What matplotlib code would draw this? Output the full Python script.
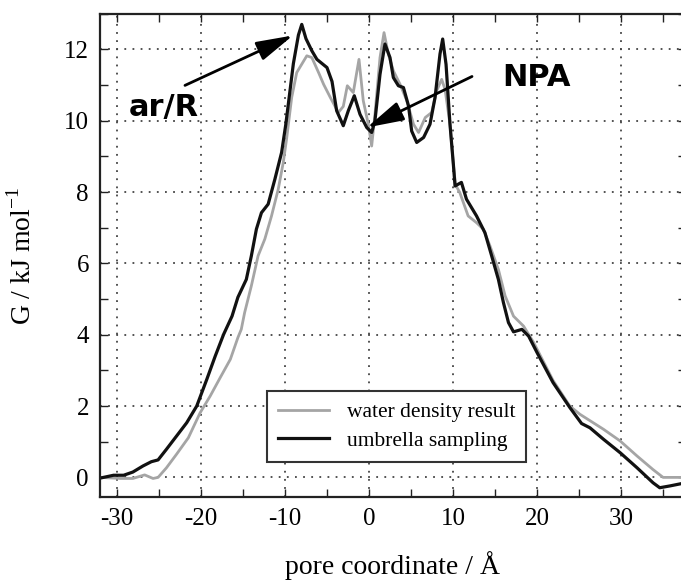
import numpy as np
import matplotlib
matplotlib.use('Agg')
import matplotlib.pyplot as plt
from matplotlib.ticker import MultipleLocator

plt.rcParams['font.family'] = ['Liberation Serif', 'DejaVu Serif']
plt.rcParams['mathtext.fontset'] = 'custom'
plt.rcParams['mathtext.rm'] = 'Liberation Serif'
plt.rcParams['axes.unicode_minus'] = False

# umbrella sampling (black)
us_x = [-32, -30.4, -29.2, -28.1, -26.9, -25.9, -25.1, -24.1, -22.9, -21.7, -20.5, -19.3, -18.3,
        -17.3, -16.3, -15.6, -14.6, -14.0, -13.4, -12.8, -12.0, -11.2, -10.4, -9.9, -9.0, -8.4,
        -8.0, -7.5, -6.8, -6.2, -5.0, -4.4, -3.85, -3.06, -2.46, -1.75, -1.07, -0.27, 0.32, 0.71,
        1.31, 1.9, 2.5, 2.9, 3.5, 4.1, 4.7, 5.08, 5.68, 6.5, 7.26, 7.86, 8.45, 8.77, 9.17, 9.64,
        10.04, 10.24, 11.0, 11.6, 12.8, 13.8, 14.6, 15.4, 16.0, 16.6, 17.2, 18.2, 19.0, 20.0,
        21.9, 23.9, 25.3, 26.3, 27.9, 29.9, 31.9, 33.8, 34.6, 35.8, 37.7]
us_g = [-0.02, 0.06, 0.06, 0.15, 0.32, 0.44, 0.49, 0.79, 1.16, 1.53, 2.0, 2.75, 3.4,
        4.01, 4.52, 5.05, 5.55, 6.21, 6.96, 7.42, 7.66, 8.36, 9.11, 9.9, 11.6, 12.4,
        12.7, 12.3, 11.96, 11.72, 11.49, 11.1, 10.28, 9.86, 10.28, 10.7, 10.18, 9.81, 9.67, 10.0,
        11.3, 12.15, 11.77, 11.21, 10.98, 10.93, 10.42, 9.71, 9.39, 9.53, 9.9, 10.65, 11.87, 12.29,
        11.58, 9.9, 8.78, 8.17, 8.27, 7.8, 7.33, 6.86, 6.21, 5.55, 4.9, 4.34, 4.08, 4.15, 3.96, 3.5,
        2.66, 1.96, 1.51, 1.39, 1.07, 0.69, 0.27, -0.15, -0.29, -0.24, -0.15]

# water density result (gray)
wd_x = [-32, -29.6, -28.1, -26.7, -25.7, -25.1, -24.1, -22.9, -21.5, -20.1, -18.9, -17.7, -16.5,
        -15.6, -15.2, -14.8, -14.0, -13.2, -12.4, -11.6, -10.8, -10.2, -9.8, -9.2, -8.6, -7.4,
        -6.8, -6.0, -5.4, -4.6, -3.65, -3.06, -2.58, -1.87, -1.19, -0.68, -0.08, 0.32, 0.71, 1.31,
        1.79, 2.3, 2.9, 3.7, 4.5, 5.3, 5.9, 6.7, 7.46, 8.06, 8.65, 9.05, 9.64, 10.04, 10.3, 10.8,
        11.8, 12.8, 13.6, 14.4, 15.4, 16.2, 17.2, 18.4, 19.6, 21.9, 23.9, 25.1, 27.9, 29.9, 31.9,
        33.8, 35.0, 37.7]
wd_g = [0.0, -0.03, -0.03, 0.07, -0.03, 0.0, 0.27, 0.65, 1.11, 1.81, 2.28, 2.8, 3.31,
        3.92, 4.15, 4.62, 5.37, 6.21, 6.68, 7.33, 8.08, 8.83, 9.5, 10.65, 11.35, 11.82,
        11.77, 11.35, 11.02, 10.65, 10.23, 10.4, 10.98, 10.79, 11.72, 10.56, 9.9, 9.29, 10.18, 11.77,
        12.47, 11.87, 11.4, 11.02, 10.56, 9.9, 9.67, 10.09, 10.23, 10.84, 11.16, 10.88, 9.9, 8.78,
        8.2, 7.99, 7.33, 7.14, 6.96, 6.49, 5.83, 5.09, 4.52, 4.24, 3.78, 2.72, 2.0, 1.77, 1.35,
        1.02, 0.6, 0.22, 0.0, 0.0]

fig = plt.figure(figsize=(6.81, 5.83), dpi=100)
ax = fig.add_axes([0.147, 0.1475, 0.86, 0.829])

ax.plot(wd_x, wd_g, color='#a5a5a5', lw=2.0, label='water density result')
ax.plot(us_x, us_g, color='#111111', lw=2.3, label='umbrella sampling')

ax.set_xlim(-32, 37.7)
ax.set_ylim(-0.55, 13.0)
ax.xaxis.set_major_locator(MultipleLocator(10))
ax.xaxis.set_minor_locator(MultipleLocator(5))
ax.yaxis.set_major_locator(MultipleLocator(2))
ax.yaxis.set_minor_locator(MultipleLocator(1))
ax.tick_params(which='both', direction='in', top=True, right=True, length=6, width=1.0,
               color='#222222')
ax.tick_params(which='major', labelsize=18, pad=8)
ax.grid(True, which='major', color='#444444', lw=1.3, ls=(0, (1, 3.5)))
for s in ax.spines.values():
    s.set_linewidth(1.6)
    s.set_color('#222222')

ax.set_xlabel('pore coordinate / Å', fontsize=20, labelpad=15)
ax.set_ylabel(r'G / kJ mol$^{\mathrm{-1}}$', fontsize=20, labelpad=20)

leg = ax.legend(loc='center', bbox_to_anchor=(0.506, 0.146), fontsize=15.5, frameon=True,
                fancybox=False, handlelength=2.4, borderpad=0.5, labelspacing=0.4)
leg.get_frame().set_edgecolor('#333333')
leg.get_frame().set_linewidth(1.5)
leg.get_frame().set_alpha(1)

ax.text(-24.4, 10.38, 'ar/R', fontsize=22, fontweight='bold', family='DejaVu Sans',
        ha='center', va='center')
ax.text(19.9, 11.22, 'NPA', fontsize=22, fontweight='bold', family='DejaVu Sans',
        ha='center', va='center')
arrow = dict(arrowstyle='-|>,head_length=1.5,head_width=0.4', mutation_scale=15, lw=2,
             color='k', shrinkA=0, shrinkB=0)
ax.annotate('', xy=(-9.05, 12.39), xytext=(-21.9, 10.99), arrowprops=arrow)
ax.annotate('', xy=(-0.24, 9.81), xytext=(12.26, 11.24), arrowprops=arrow)

plt.savefig('out.png', dpi=100)
